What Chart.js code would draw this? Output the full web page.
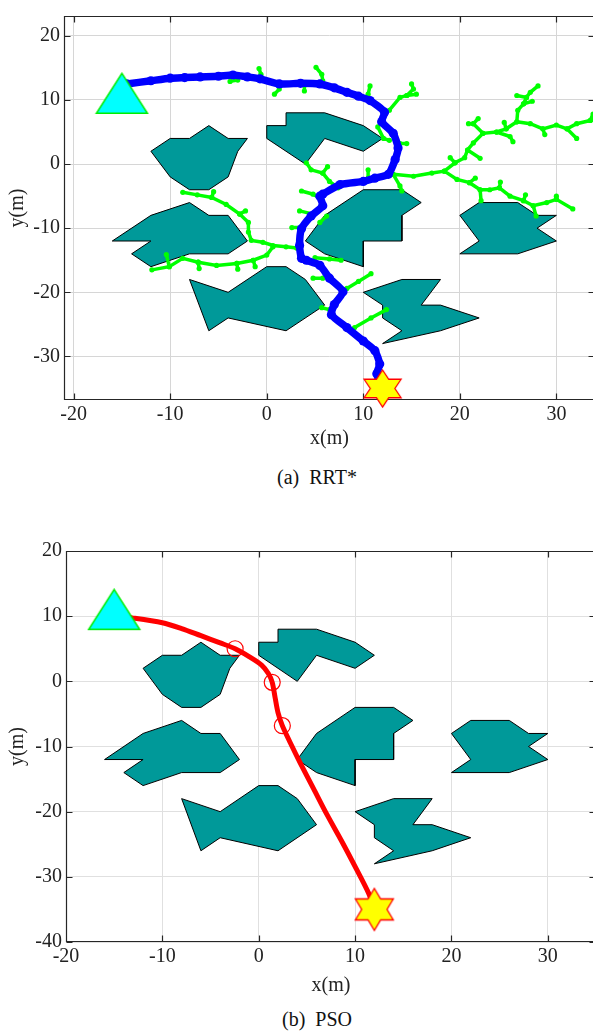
<!DOCTYPE html>
<html>
<head>
<meta charset="utf-8">
<script src="https://cdn.jsdelivr.net/npm/chart.js@4.4.1/dist/chart.umd.min.js"></script>
<style>
  html, body { margin: 0; padding: 0; background: #fff; overflow: hidden; width: 593px; height: 1032px; }
  canvas { position: absolute; left: 0; }
  #c1 { top: 0; }
  #c2 { top: 530px; }
  .cap { position: absolute; left: 0; width: 634px; text-align: center; font: 20px 'Liberation Serif', serif; color: #111; white-space: pre; }
</style>
</head>
<body>
<canvas id="c1" width="640" height="451"></canvas>
<div class="cap" style="top:466px">(a)  RRT*</div>
<canvas id="c2" width="640" height="468"></canvas>
<div class="cap" style="top:1008px">(b)  PSO</div>
<script>
// obstacles (same map in both plots)
const obsA = [[-12,2],[-10,4],[-8,4],[-6,6],[-4,4],[-2,4],[-3,2],[-4,-2],[-6,-4],[-8,-4],[-10,-2]];
const obsB = [[0,6],[2,6],[2,8],[6,8],[10,6],[12,4],[10,2],[6,4],[4,0],[0,4]];
const obsC = [[-16,-12],[-12,-8],[-8,-6],[-6,-8],[-4,-8],[-2,-12],[-4,-14],[-8,-14],[-12,-16],[-14,-14],[-12,-12]];
const obsD = [[-8,-18],[-4,-20],[0,-16],[2,-16],[4,-18],[6,-22],[2,-26],[-4,-24],[-6,-26]];
const obsE = [[10,-4],[14,-4],[16,-6],[14,-8],[14,-12],[10,-12],[10,-16],[6,-14],[4,-12],[6,-8]];
const obsF = [[20,-8],[22,-6],[26,-6],[28,-8],[30,-8],[28,-10],[30,-12],[26,-14],[20,-14],[22,-12]];
const obsG = [[10,-20],[14,-18],[18,-18],[16,-22],[18,-22],[22,-24],[18,-26],[12,-28],[14,-26],[12,-24],[12,-22]];
const obstacles = [obsA, obsB, obsC, obsD, obsE, obsF, obsG];

const startPt = [-15, 10];
const goalPt = [12, -35];

// RRT* final path
const rrtPath = [[-14.5,12.5],[-12,13.0],[-10,13.4],[-8.5,13.5],[-6.9,13.6],[-5,13.7],[-3.5,13.9],[-2,13.6],[-0.7,13.3],
  [1.3,12.5],[3.5,12.6],[5.5,12.5],[7,11.9],[8.3,11.2],[9.5,10.6],[10.7,9.9],[12.2,8.1],[11.9,6.6],[13.1,4.8],[13.6,2.5],
  [13.3,0.7],[12.6,-1.6],[11.2,-2.2],[10,-2.7],[7.6,-3.2],[5.8,-4.7],[5.5,-5.0],[5.8,-6.5],[4.6,-8.1],[3.6,-10.1],
  [3.4,-12.7],[3.6,-14.7],[4.1,-15.0],[5.5,-15.8],[6.5,-17.8],[7.9,-19.9],[7.0,-21.9],[6.7,-23.5],[8.3,-25.5],
  [10,-27.6],[11.2,-29.1],[11.7,-31.2],[11.4,-32.7],[11.9,-35]];

// RRT* tree branches
const treeBranches = [
  [[13.1,-1.6],[15.2,-1.9],[17.1,-1.4],[18.4,-1.1],[19.5,0.2],[20.5,1.0],[20.8,2.2],[21.4,3.3],[22.4,4.8],[23.8,5.0],[24.8,5.5],[25.9,6.6],[26.0,8.4],[26.6,9.4],[26.9,10.4],[27.3,11.2],[28.1,12.2]],
  [[25.9,6.6],[27.3,6.3],[28.6,5.5],[30.0,6.1],[31.1,5.5],[32.1,6.3],[33.5,6.8],[34.5,7.0]],
  [[31.1,5.5],[32.1,4.0]],
  [[26.9,10.4],[25.9,10.7]],
  [[23.8,5.0],[25.2,4.3],[25.5,3.5]],
  [[22.4,4.8],[21.4,6.3],[20.9,6.3]],
  [[21.4,6.3],[21.9,7.1]],
  [[20.8,2.2],[22.1,0.9]],
  [[19.5,0.2],[19.0,1.0]],
  [[24.8,5.5],[24.6,6.5]],
  [[28.6,5.5],[28.8,4.6]],
  [[33.5,6.8],[33.8,7.8]],
  [[26.6,9.4],[27.5,9.8]],
  [[18.4,-1.1],[19.7,-2.4],[21.0,-2.9],[22.1,-4.0],[22.2,-5.7]],
  [[22.1,-4.0],[23.1,-4.0],[24.1,-3.7],[25.2,-5.0],[26.6,-5.7],[27.6,-6.5],[29.0,-6.0],[30.0,-5.5],[31.7,-7.0]],
  [[27.6,-6.5],[27.9,-8.1]],
  [[30.0,-5.5],[30.0,-5.0]],
  [[24.1,-3.7],[24.2,-2.8]],
  [[26.6,-5.7],[26.8,-4.8]],
  [[21.0,-2.9],[21.6,-2.2]],
  [[13.1,-1.6],[13.8,-3.4],[14.0,-4.2]],
  [[12.7,8.4],[13.8,10.4],[14.5,10.7],[15.2,11.7],[15.0,12.5]],
  [[14.5,10.7],[15.5,10.9]],
  [[5.8,13.0],[5.7,14.0],[5.1,15.1]],
  [[10.7,12.2],[10.5,10.9]],
  [[3.9,12.3],[3.9,11.4]],
  [[-0.8,14.9],[-0.6,14.0]],
  [[-3.8,12.9],[-3.0,13.1]],
  [[1.3,11.7],[0.8,10.9]],
  [[11.5,5.8],[12.1,4.0],[12.7,3.7]],
  [[13.8,3.2],[14.5,3.2]],
  [[4.1,0.2],[4.6,-0.9],[5.8,-1.4],[6.5,-2.7],[7.4,-3.7]],
  [[5.8,-1.4],[6.3,-0.4]],
  [[3.6,-4.2],[4.8,-4.7],[5.7,-5.5]],
  [[10.5,-0.9],[10.5,-2.2]],
  [[3.4,-7.3],[4.8,-7.8]],
  [[2.6,-9.9],[3.6,-9.9]],
  [[5.5,-9.1],[6.2,-8.1]],
  [[5.0,-14.6],[6.5,-14.8],[7.7,-15.0]],
  [[8.3,-19.4],[9.5,-18.3],[10.8,-17.1]],
  [[5.7,-22.4],[6.5,-22.7]],
  [[9.1,-25.5],[10.8,-24.0],[12.4,-22.7]],
  [[5.8,-17.8],[4.8,-17.8]],
  [[-8.7,-4.4],[-7.2,-4.8],[-5.7,-5.2],[-4.2,-6.3],[-2.8,-7.8],[-1.9,-9.1],[-1.9,-10.6],[-1.6,-11.9],[-0.4,-12.2],[0.65,-12.7],[2.0,-12.9],[3.1,-13.1]],
  [[-5.7,-5.2],[-5.5,-4.3]],
  [[-2.8,-7.8],[-2.2,-7.3]],
  [[-11.9,-16.5],[-10.1,-16.0],[-8.7,-14.7],[-7.1,-15.3],[-5.2,-15.8],[-3.1,-15.5],[-1.4,-15.0],[0,-14.2],[0.65,-12.9]],
  [[-10.1,-16.0],[-10.4,-14.1]],
  [[-7.1,-15.3],[-7.0,-16.3]],
  [[-3.1,-15.5],[-3.0,-16.4]],
  [[-1.4,-15.0],[-1.2,-16.0]]
];

// PSO path and waypoints
const psoPath = [[-15,10],[-13,9.7],[-10,9.0],[-8,8.1],[-6,7.0],[-4,5.9],[-2.45,5.0],[-1,3.8],[0.3,2.5],[1.0,1.2],[1.4,-0.15],
  [1.7,-2.5],[2.0,-4.8],[2.45,-6.8],[3.3,-9.5],[4.3,-12.5],[5.7,-16.5],[7.1,-20.5],[8.6,-24.5],[10.1,-28.7],[11.4,-32.5],[12,-35]];
const psoWaypoints = [[-2.45,5.0],[1.4,-0.15],[2.45,-6.8]];

const ticksX = [-20, -10, 0, 10, 20, 30];
const ticksYTop = [-30, -20, -10, 0, 10, 20];
const ticksYBottom = [-40, -30, -20, -10, 0, 10, 20];

const pts = arr => arr.map(p => ({x: p[0], y: p[1]}));
const font = {family: "'Liberation Serif', 'Times New Roman', serif", size: 20};

function hexagram(w, h) {
  const c = document.createElement('canvas');
  c.width = w + 4; c.height = h + 4;
  const g = c.getContext('2d');
  const cx = c.width / 2, cy = c.height / 2;
  const rx = w / 2 / Math.cos(Math.PI / 6), ry = h / 2;
  g.beginPath();
  for (let i = 0; i < 12; i++) {
    const a = -Math.PI / 2 + i * Math.PI / 6;
    const r = i % 2 ? 1 / Math.sqrt(3) : 1;
    g.lineTo(cx + Math.cos(a) * rx * r, cy + Math.sin(a) * ry * r);
  }
  g.closePath();
  g.fillStyle = '#ffff00'; g.fill();
  g.strokeStyle = '#ff0000'; g.lineWidth = 1.3; g.stroke();
  return c;
}

function triangle(w, h) {
  const c = document.createElement('canvas');
  const half = Math.ceil(h * 2 / 3) + 1;
  c.width = w + 4; c.height = half * 2;
  const g = c.getContext('2d');
  const top = half - h * 2 / 3;
  g.beginPath();
  g.moveTo(c.width / 2, top);
  g.lineTo(c.width / 2 + w / 2, top + h);
  g.lineTo(c.width / 2 - w / 2, top + h);
  g.closePath();
  g.fillStyle = '#00ffff'; g.fill();
  g.strokeStyle = '#00ee00'; g.lineWidth = 1.5; g.stroke();
  return c;
}

// matlab style box (left/top/bottom) with inward ticks on all sides
const boxPlugin = {
  id: 'box',
  beforeDatasetsDraw(chart) {
    const {ctx, chartArea: a, scales: {x, y}} = chart;
    const L = Math.round(a.left) + 0.5, R = Math.round(a.right) - 0.5;
    const T = Math.round(a.top) + 0.5, B = Math.round(a.bottom) - 0.5;
    ctx.save();
    ctx.strokeStyle = '#262626';
    ctx.lineWidth = 1.2;
    ctx.beginPath();
    ctx.moveTo(R, T); ctx.lineTo(L, T); ctx.lineTo(L, B); ctx.lineTo(R, B);
    x.ticks.forEach(t => {
      const p = Math.round(x.getPixelForValue(t.value)) + 0.5;
      ctx.moveTo(p, B); ctx.lineTo(p, B - 6);
      ctx.moveTo(p, T); ctx.lineTo(p, T + 6);
    });
    y.ticks.forEach(t => {
      const p = Math.round(y.getPixelForValue(t.value)) + 0.5;
      ctx.moveTo(L, p); ctx.lineTo(L + 6, p);
      ctx.moveTo(R, p); ctx.lineTo(R - 6, p);
    });
    ctx.stroke();
    ctx.restore();
  }
};

function obstacleSets() {
  return obstacles.map(o => ({
    data: pts(o.concat([o[0]])),
    borderColor: '#000', borderWidth: 1, backgroundColor: '#009999',
    fill: 'shape', pointRadius: 0, tension: 0, order: 10
  }));
}

function makeOptions(cfg) {
  return {
    responsive: false,
    animation: false,
    events: [],
    layout: {padding: {top: cfg.top, right: cfg.right, left: 0, bottom: 0}},
    plugins: {legend: {display: false}, tooltip: {enabled: false}},
    scales: {
      x: {
        type: 'linear', min: cfg.xr[0], max: cfg.xr[1],
        afterBuildTicks: s => { s.ticks = ticksX.map(v => ({value: v})); },
        afterFit: s => { s.height = cfg.xh; },
        grid: {color: cfg.grid, drawTicks: false},
        border: {display: false},
        ticks: {font, color: '#222', padding: 3, maxRotation: 0, autoSkip: false, callback: v => String(v)},
        title: {display: true, text: 'x(m)', font, color: '#222', padding: {top: 0, bottom: 0}}
      },
      y: {
        type: 'linear', min: cfg.yr[0], max: cfg.yr[1],
        afterBuildTicks: s => { s.ticks = cfg.yt.map(v => ({value: v})); },
        afterFit: s => { s.width = cfg.yw; },
        grid: {color: cfg.grid, drawTicks: false},
        border: {display: false},
        ticks: {font, color: '#222', padding: 4, autoSkip: false, callback: v => String(v)},
        title: {display: true, text: 'y(m)', font, color: '#222', padding: {top: 6, bottom: 0}}
      }
    }
  };
}

// flatten tree with gaps between branches
const treeData = [];
treeBranches.forEach(b => { treeData.push(...pts(b)); treeData.push({x: NaN, y: NaN}); });

new Chart(document.getElementById('c1'), {
  type: 'line',
  data: {
    datasets: [
      ...obstacleSets(),
      {data: treeData, borderColor: '#00ff00', borderWidth: 3.5, pointRadius: 2.6, pointBackgroundColor: '#00ff00',
       pointBorderWidth: 0, spanGaps: false, fill: false, tension: 0, order: 4},
      {data: pts(rrtPath), borderColor: '#0000ff', borderWidth: 7.5, pointRadius: 4.6, pointBackgroundColor: '#0000ff',
       pointBorderWidth: 0, borderJoinStyle: 'round', borderCapStyle: 'round', fill: false, tension: 0.2, order: 3},
      {data: pts([startPt]), showLine: false, pointStyle: triangle(51, 40), order: 1, clip: false},
      {data: pts([goalPt]), showLine: false, pointStyle: hexagram(37, 37), order: 1, clip: false}
    ]
  },
  options: makeOptions({xr: [-21, 34], yr: [-36.8, 23.1], yt: ticksYTop, top: 9, right: 45, xh: 51, yw: 64, grid: '#d6d6d6'}),
  plugins: [boxPlugin]
});

new Chart(document.getElementById('c2'), {
  type: 'line',
  data: {
    datasets: [
      ...obstacleSets(),
      {data: pts(psoPath), borderColor: '#ff0000', borderWidth: 5, pointRadius: 0, borderCapStyle: 'round',
       borderJoinStyle: 'round', fill: false, tension: 0.3, order: 3},
      {data: pts(psoWaypoints), showLine: false, pointRadius: 8, pointBackgroundColor: 'rgba(0,0,0,0)',
       pointBorderColor: '#ff0000', pointBorderWidth: 1.2, order: 2},
      {data: pts([startPt]), showLine: false, pointStyle: triangle(51, 40), order: 1, clip: false},
      {data: pts([goalPt]), showLine: false, pointStyle: hexagram(38, 42), order: 1, clip: false}
    ]
  },
  options: makeOptions({xr: [-20, 35], yr: [-40, 20], yt: ticksYBottom, top: 21, right: 44, xh: 56, yw: 66, grid: '#e0e0e0'}),
  plugins: [boxPlugin]
});
</script>
</body>
</html>
